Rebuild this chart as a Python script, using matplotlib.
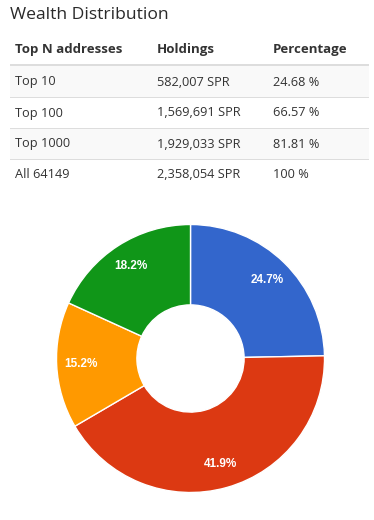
import matplotlib.pyplot as plt
from matplotlib.patches import Rectangle

W, H = 374, 520

title = "Wealth Distribution"
headers = ["Top N addresses", "Holdings", "Percentage"]
groups = ["Top 10", "Top 100", "Top 1000", "All 64149"]
holdings = [582007, 1569691, 1929033, 2358054]
percents = ["24.68 %", "66.57 %", "81.81 %", "100 %"]
colors = ["#3366cc", "#dc3912", "#ff9900", "#109618"]

plt.rcParams['font.family'] = ['Open Sans', 'DejaVu Sans']

fig = plt.figure(figsize=(W / 100, H / 100), dpi=100)


def fx(x):
    return x / W


def fy(y):
    return 1 - y / H


txt = "#333333"
fig.text(fx(10), fy(15), title, fontsize=12.6, color="#2a2a2a", va="center", ha="left")

col_x = [15, 157, 273]
for x, h in zip(col_x, headers):
    fig.text(fx(x), fy(49), h, fontsize=9.5, fontweight="bold", color=txt,
             va="center", ha="left")

# header rule
fig.add_artist(Rectangle((fx(10), fy(66)), fx(359), 2 / H, transform=fig.transFigure,
                         color="#dddddd", lw=0))

row_h = 31
top = 66
for i, g in enumerate(groups):
    y0 = top + i * row_h
    if i % 2 == 0:
        fig.add_artist(Rectangle((fx(10), fy(y0 + row_h)), fx(359), row_h / H,
                                 transform=fig.transFigure, color="#f9f9f9", lw=0))
    if i > 0:
        fig.add_artist(Rectangle((fx(10), fy(y0 + 0.5)), fx(359), 1 / H,
                                 transform=fig.transFigure, color="#dddddd", lw=0))
    yc = y0 + row_h / 2 + 0.5
    vals = [g, f"{holdings[i]:,} SPR", percents[i]]
    for x, v in zip(col_x, vals):
        fig.text(fx(x), fy(yc), v, fontsize=9.2, color=txt, va="center", ha="left")

# donut: slice sizes are the differences of the cumulative holdings
slices = [holdings[0]] + [holdings[i] - holdings[i - 1] for i in range(1, len(holdings))]

cx, cy, r = 190.5, 358.5, 134
ax = fig.add_axes([fx(cx - r), fy(cy + r), 2 * r / W, 2 * r / H])
wedges, texts, autotexts = ax.pie(
    slices, colors=colors, startangle=90, counterclock=False,
    autopct="%.1f%%", pctdistance=0.82, radius=1,
    wedgeprops=dict(width=0.6, edgecolor="white", linewidth=1),
    textprops=dict(color="white", fontsize=8.5, fontweight="bold"))
for t in autotexts:
    t.set_family(['Liberation Sans', 'DejaVu Sans'])
ax.set_xlim(-1, 1)
ax.set_ylim(-1, 1)
ax.set_aspect("auto")
ax.axis("off")

fig.savefig("out.png", dpi=100)
